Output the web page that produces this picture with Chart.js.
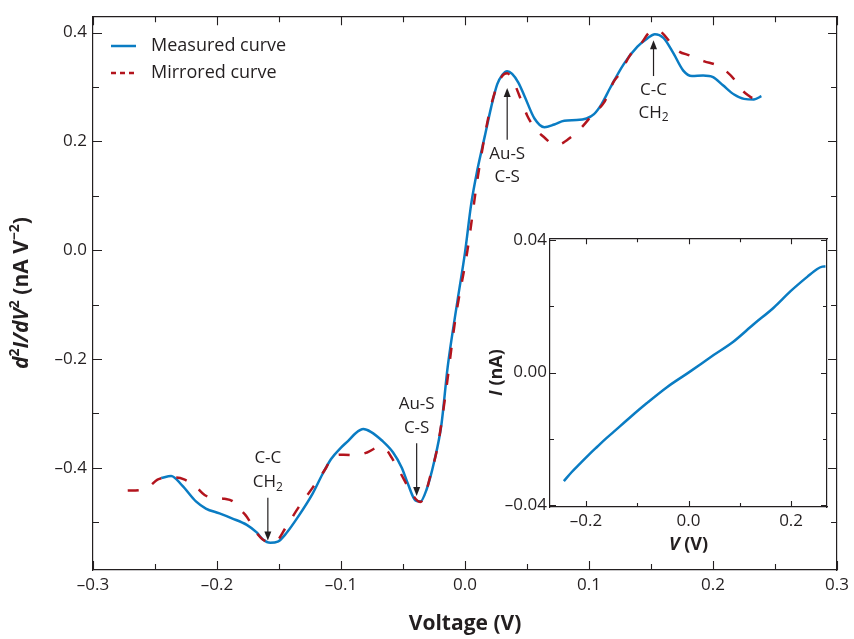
<!DOCTYPE html>
<html>
<head>
<meta charset="utf-8">
<script src="https://cdn.jsdelivr.net/npm/chart.js@4.4.1/dist/chart.umd.min.js"></script>
<style>
  html, body { margin: 0; padding: 0; background: #fff; }
  #wrap { position: relative; width: 854px; height: 639px; }
  #mainChart { position: absolute; left: 0; top: 0; }
  #insetChart { position: absolute; left: 480px; top: 225px; }
</style>
</head>
<body>
<div id="wrap">
  <canvas id="mainChart" width="854" height="639"></canvas>
  <canvas id="insetChart" width="360" height="340"></canvas>
</div>
<script>
// measured d2I/dV2 curve
const measuredV = [-0.245, -0.237, -0.228, -0.217, -0.209, -0.198, -0.188, -0.176, -0.168, -0.163,
  -0.157, -0.151, -0.144, -0.134, -0.123, -0.115, -0.108, -0.100, -0.094, -0.088,
  -0.082, -0.076, -0.067, -0.058, -0.051, -0.046, -0.040, -0.036, -0.031, -0.025,
  -0.019, -0.014, -0.006, 0.000, 0.005, 0.010, 0.016, 0.021, 0.026, 0.030,
  0.034, 0.038, 0.043, 0.048, 0.056, 0.064, 0.072, 0.080, 0.090, 0.098,
  0.104, 0.110, 0.117, 0.128, 0.139, 0.147, 0.153, 0.160, 0.168, 0.176,
  0.183, 0.192, 0.200, 0.208, 0.217, 0.225, 0.233, 0.239];
const measuredY = [-0.419, -0.415, -0.433, -0.462, -0.475, -0.484, -0.493, -0.505, -0.519, -0.532,
  -0.538, -0.536, -0.520, -0.488, -0.448, -0.412, -0.384, -0.363, -0.350, -0.336,
  -0.329, -0.334, -0.350, -0.372, -0.400, -0.430, -0.460, -0.462, -0.440, -0.390,
  -0.320, -0.215, -0.092, -0.004, 0.085, 0.148, 0.210, 0.262, 0.305, 0.322,
  0.329, 0.324, 0.308, 0.283, 0.242, 0.226, 0.231, 0.238, 0.239, 0.242,
  0.250, 0.268, 0.298, 0.342, 0.374, 0.389, 0.397, 0.390, 0.362, 0.330,
  0.320, 0.321, 0.318, 0.303, 0.286, 0.278, 0.277, 0.283];

// mirrored curve
const mirroredV = [-0.272, -0.262, -0.255, -0.248, -0.240, -0.233, -0.226, -0.217, -0.210, -0.204,
  -0.194, -0.187, -0.182, -0.176, -0.168, -0.160, -0.153, -0.144, -0.134, -0.123,
  -0.112, -0.107, -0.098, -0.088, -0.079, -0.070, -0.064, -0.059, -0.052, -0.046,
  -0.040, -0.036, -0.032, -0.028, -0.022, -0.016, -0.008, 0.002, 0.010, 0.018,
  0.024, 0.030, 0.034, 0.039, 0.044, 0.050, 0.056, 0.064, 0.072, 0.078,
  0.085, 0.093, 0.104, 0.112, 0.120, 0.125, 0.133, 0.141, 0.151, 0.156,
  0.160, 0.166, 0.172, 0.181, 0.193, 0.203, 0.210, 0.217, 0.221, 0.228,
  0.233, 0.239];
const mirroredY = [-0.442, -0.441, -0.435, -0.422, -0.418, -0.418, -0.422, -0.435, -0.450, -0.455,
  -0.457, -0.462, -0.475, -0.490, -0.520, -0.535, -0.535, -0.508, -0.472, -0.437,
  -0.400, -0.380, -0.376, -0.377, -0.372, -0.363, -0.366, -0.382, -0.410, -0.435,
  -0.457, -0.463, -0.448, -0.415, -0.360, -0.270, -0.130, 0.000, 0.130, 0.235,
  0.290, 0.320, 0.325, 0.310, 0.283, 0.248, 0.225, 0.207, 0.194, 0.196,
  0.207, 0.223, 0.252, 0.271, 0.310, 0.325, 0.358, 0.377, 0.403, 0.403,
  0.397, 0.380, 0.366, 0.358, 0.347, 0.340, 0.330, 0.314, 0.300, 0.285,
  0.279, 0.280];

// inset I-V curve
const ivV = [-0.243, -0.228, -0.211, -0.195, -0.178, -0.160, -0.146, -0.113, -0.081, -0.042,
  0.000, 0.049, 0.088, 0.127, 0.166, 0.199, 0.232, 0.251, 0.261, 0.267];
const ivI = [-0.0328, -0.0301, -0.0274, -0.0249, -0.0224, -0.0198, -0.0179, -0.0134, -0.0092, -0.0044,
  0.0000, 0.0053, 0.0094, 0.0146, 0.0196, 0.0246, 0.0290, 0.0313, 0.0320, 0.0321];

// ticks
const xTicks = [-0.3, -0.2, -0.1, 0, 0.1, 0.2, 0.3];
const xMinor = [-0.25, -0.15, -0.05, 0.05, 0.15, 0.25];
const yTicks = [-0.4, -0.2, 0, 0.2, 0.4];
const yMinor = [-0.5, -0.3, -0.1, 0.1, 0.3];
const insetXTicks = [-0.2, 0, 0.2];
const insetXMinor = [-0.1, 0.1];
const insetYTicks = [-0.04, 0, 0.04];
const insetYMinor = [-0.02, 0.02];

// peak assignments (arrow from tail to tip)
const peakV = [-0.159, -0.039, 0.034, 0.152];
const peakTip = [-0.534, -0.452, 0.298, 0.386];
const peakTail = [-0.455, -0.355, 0.203, 0.320];
const peakLine1 = ['C-C', 'Au-S', 'Au-S', 'C-C'];
const peakLine2 = ['CH\u2082', 'C-S', 'C-S', 'CH\u2082'];

const INK = '#231f20';
const BLUE = '#0a7cc3';
const RED = '#b3141d';
const FONT = '"Open Sans", "Noto Sans", sans-serif';

const pts = (xs, ys) => xs.map((x, i) => ({ x: x, y: ys[i] }));
const fixedTicks = arr => axis => { axis.ticks = arr.map(v => ({ value: v })); };
const fmt = d => v => (v < -1e-9 ? '\u2013' : '') + Math.abs(v).toFixed(d);

function drawRich(ctx, segs, cx, cy, angle) {
    ctx.save();
    ctx.translate(cx, cy);
    ctx.rotate(angle);
    ctx.textBaseline = 'middle';
    ctx.textAlign = 'left';
    ctx.fillStyle = INK;
    let total = 0;
    segs.forEach(s => { ctx.font = s.f; total += ctx.measureText(s.t).width; });
    let x = -total / 2;
    segs.forEach(s => {
        ctx.font = s.f;
        ctx.fillText(s.t, x, s.dy || 0);
        x += ctx.measureText(s.t).width;
    });
    ctx.restore();
}

// label with optional subscript 2
function drawLabel(ctx, text, cx, cy) {
    const parts = text.split('\u2082');
    const segs = [{ t: parts[0], f: '17px ' + FONT }];
    if (parts.length > 1) segs.push({ t: '2', f: '12px ' + FONT, dy: 5 });
    drawRich(ctx, segs, cx, cy, 0);
}

function inwardTicks(ctx, area, xs, ys, xMaj, xMin, yMaj, yMin, majLen, minLen) {
    ctx.save();
    ctx.strokeStyle = INK;
    ctx.lineWidth = 1.1;
    ctx.beginPath();
    const vt = (v, len) => {
        const p = Math.round(xs.getPixelForValue(v)) + 0.5;
        ctx.moveTo(p, area.bottom); ctx.lineTo(p, area.bottom - len);
        ctx.moveTo(p, area.top); ctx.lineTo(p, area.top + len);
    };
    const ht = (v, len) => {
        const p = Math.round(ys.getPixelForValue(v)) + 0.5;
        ctx.moveTo(area.left, p); ctx.lineTo(area.left + len, p);
        ctx.moveTo(area.right, p); ctx.lineTo(area.right - len, p);
    };
    xMaj.forEach(v => vt(v, majLen));
    xMin.forEach(v => vt(v, minLen));
    yMaj.forEach(v => ht(v, majLen));
    yMin.forEach(v => ht(v, minLen));
    ctx.stroke();
    ctx.restore();
}

const mainDecor = {
    id: 'mainDecor',
    afterDraw(chart) {
        const { ctx, chartArea: a } = chart;
        const xs = chart.scales.x, ys = chart.scales.y;
        inwardTicks(ctx, a, xs, ys, xTicks, xMinor, yTicks, yMinor, 9, 6);

        // legend
        const ds = chart.data.datasets;
        ds.forEach((d, i) => {
            const ly = 46 + i * 27;
            ctx.save();
            ctx.strokeStyle = d.borderColor;
            ctx.lineWidth = 2.5;
            if (d.borderDash) ctx.setLineDash([5, 4]);
            ctx.beginPath(); ctx.moveTo(111, ly); ctx.lineTo(136, ly); ctx.stroke();
            ctx.restore();
            ctx.save();
            ctx.fillStyle = INK;
            ctx.font = '18px ' + FONT;
            ctx.textBaseline = 'middle';
            ctx.fillText(d.label, 151, ly);
            ctx.restore();
        });

        // peak arrows + labels
        peakV.forEach((v, i) => {
            const px = xs.getPixelForValue(v);
            const tip = ys.getPixelForValue(peakTip[i]);
            const tail = ys.getPixelForValue(peakTail[i]);
            const dir = tip > tail ? 1 : -1;
            ctx.save();
            ctx.strokeStyle = INK; ctx.fillStyle = INK; ctx.lineWidth = 1.2;
            ctx.beginPath(); ctx.moveTo(px, tail); ctx.lineTo(px, tip - dir * 6); ctx.stroke();
            ctx.beginPath();
            ctx.moveTo(px, tip);
            ctx.lineTo(px - 3.5, tip - dir * 9);
            ctx.lineTo(px + 3.5, tip - dir * 9);
            ctx.closePath(); ctx.fill();
            ctx.restore();
            if (dir > 0) {
                drawLabel(ctx, peakLine1[i], px, tail - 39);
                drawLabel(ctx, peakLine2[i], px, tail - 15);
            } else {
                drawLabel(ctx, peakLine1[i], px, tail + 14);
                drawLabel(ctx, peakLine2[i], px, tail + 37);
            }
        });

        // axis titles
        drawRich(ctx, [{ t: 'Voltage (V)', f: 'bold 21px ' + FONT }], (a.left + a.right) / 2, 624, 0);
        const B = 'bold 21px ' + FONT, BI = 'italic bold 21px ' + FONT, S = 'bold 14px ' + FONT;
        drawRich(ctx, [
            { t: 'd', f: BI }, { t: '2', f: S, dy: -7 }, { t: 'I/dV', f: BI }, { t: '2', f: S, dy: -7 },
            { t: ' (nA V', f: B }, { t: '\u22122', f: S, dy: -7 }, { t: ')', f: B }
        ], 22, (a.top + a.bottom) / 2, -Math.PI / 2);
    }
};

const insetDecor = {
    id: 'insetDecor',
    afterDraw(chart) {
        const { ctx, chartArea: a } = chart;
        inwardTicks(ctx, a, chart.scales.x, chart.scales.y, insetXTicks, insetXMinor, insetYTicks, insetYMinor, 6, 4);
        const B = 'bold 18px ' + FONT, BI = 'italic bold 18px ' + FONT;
        drawRich(ctx, [{ t: 'I', f: BI }, { t: ' (nA)', f: B }], 17, (a.top + a.bottom) / 2, -Math.PI / 2);
        drawRich(ctx, [{ t: 'V', f: BI }, { t: ' (V)', f: B }], (a.left + a.right) / 2, 320, 0);
    }
};

function frameScales(xMin, xMax, yMin, yMax, xT, yT, dec, sizes, fontSize) {
    const border = { display: true, color: INK, width: 1.2 };
    const grid = { display: false, drawTicks: false };
    const tickFont = { family: FONT, size: fontSize };
    return {
        x: {
            type: 'linear', position: 'bottom', min: xMin, max: xMax,
            afterBuildTicks: fixedTicks(xT), afterFit: s => { s.height = sizes.bottom; },
            grid: grid, border: border,
            ticks: { color: INK, font: tickFont, padding: sizes.xPad, maxRotation: 0, autoSkip: false, callback: fmt(dec.x) }
        },
        xTop: {
            type: 'linear', position: 'top', min: xMin, max: xMax,
            afterFit: s => { s.height = sizes.top; },
            grid: grid, border: border, ticks: { display: false }
        },
        y: {
            type: 'linear', position: 'left', min: yMin, max: yMax,
            afterBuildTicks: fixedTicks(yT), afterFit: s => { s.width = sizes.left; },
            grid: grid, border: border,
            ticks: { color: INK, font: tickFont, padding: sizes.yPad, autoSkip: false, callback: fmt(dec.y) }
        },
        yRight: {
            type: 'linear', position: 'right', min: yMin, max: yMax,
            afterFit: s => { s.width = sizes.right; },
            grid: grid, border: border, ticks: { display: false }
        }
    };
}

const commonOpts = {
    responsive: false,
    animation: false,
    layout: { padding: 0 },
    plugins: { legend: { display: false }, tooltip: { enabled: false } },
    elements: { point: { radius: 0 } }
};

new Chart(document.getElementById('mainChart'), {
    type: 'line',
    data: {
        datasets: [{
            label: 'Measured curve',
            data: pts(measuredV, measuredY),
            borderColor: BLUE, borderWidth: 2.5,
            cubicInterpolationMode: 'monotone', order: 1
        }, {
            label: 'Mirrored curve',
            data: pts(mirroredV, mirroredY),
            borderColor: RED, borderWidth: 2.5, borderDash: [11, 15],
            cubicInterpolationMode: 'monotone', order: 0
        }]
    },
    options: Object.assign({}, commonOpts, {
        scales: frameScales(-0.3, 0.3, -0.588, 0.43, xTicks, yTicks, { x: 1, y: 1 },
            { bottom: 69, top: 13, left: 93, right: 13, xPad: 5, yPad: 6 }, 17)
    }),
    plugins: [mainDecor]
});

new Chart(document.getElementById('insetChart'), {
    type: 'line',
    data: {
        datasets: [{
            label: 'I-V',
            data: pts(ivV, ivI),
            borderColor: BLUE, borderWidth: 2.5,
            cubicInterpolationMode: 'monotone'
        }]
    },
    options: Object.assign({}, commonOpts, {
        scales: frameScales(-0.27, 0.27, -0.0406, 0.0406, insetXTicks, insetYTicks, { x: 1, y: 2 },
            { bottom: 58, top: 13, left: 70, right: 13, xPad: 4, yPad: 3 }, 17)
    }),
    plugins: [insetDecor]
});
</script>
</body>
</html>
